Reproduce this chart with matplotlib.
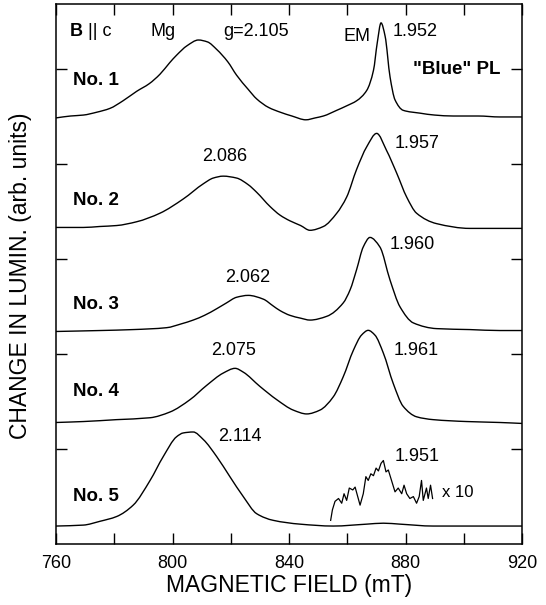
import matplotlib
matplotlib.use("Agg")
import matplotlib.pyplot as plt
from matplotlib.ticker import FixedLocator, FuncFormatter
from matplotlib.path import Path
from matplotlib.patches import PathPatch

plt.rcParams['font.family'] = ['Liberation Sans', 'DejaVu Sans']

# ---- data (field in mT, change in luminescence in arb. units above baseline) ----
field1 = [760, 765, 769.4, 774, 778.5, 783, 787.7, 792, 795.7, 799, 801.4, 805, 808.9, 812,
          815.2, 819, 822, 826, 828.9, 833, 837, 841, 845.8, 849, 851.8, 856.4, 860, 863.2,
          866.7, 869, 870.3, 871.6, 873, 874.7, 876.4, 879.2, 885, 890, 896.4, 905, 912.4, 920]
lum1 = [-0.01, 0.01, 0.02, 0.05, 0.09, 0.17, 0.27, 0.35, 0.45, 0.57, 0.65, 0.75, 0.81, 0.79,
        0.71, 0.58, 0.44, 0.29, 0.19, 0.10, 0.05, 0.01, -0.03, -0.01, 0.01, 0.07, 0.12, 0.17,
        0.28, 0.49, 0.78, 0.99, 0.85, 0.42, 0.18, 0.07, 0.04, 0.02, 0.01, 0.01, 0.00, 0.00]

field2 = [760, 769.4, 775, 780.8, 787.7, 795.7, 803.7, 810.6, 814, 817.4, 822, 826, 828.9,
          833.5, 836.9, 840.3, 844, 847.2, 851.8, 856.4, 859.8, 863.2, 866.7, 870.1, 873.5,
          877, 880.4, 883.8, 890.7, 902.1, 912.4, 920]
lum2 = [0.0, 0.0, 0.01, 0.02, 0.06, 0.15, 0.30, 0.46, 0.52, 0.54, 0.52, 0.45, 0.37,
        0.22, 0.13, 0.07, 0.02, -0.03, 0.01, 0.15, 0.32, 0.61, 0.85, 0.99, 0.81,
        0.57, 0.32, 0.15, 0.04, -0.01, -0.01, -0.01]

field3 = [760, 775.1, 786.5, 798, 803, 807.1, 811, 815.2, 818.5, 822, 826, 831.2, 834.5,
          836.9, 840.3, 844, 847.2, 853, 858.6, 861, 863.2, 865.5, 867.8, 871.2, 874.7,
          878.1, 882.7, 890.7, 902.1, 912.4, 920]
lum3 = [0.0, 0.01, 0.02, 0.04, 0.08, 0.12, 0.17, 0.24, 0.30, 0.36, 0.38, 0.34, 0.27,
        0.22, 0.17, 0.14, 0.12, 0.16, 0.30, 0.44, 0.65, 0.89, 0.99, 0.89, 0.54,
        0.26, 0.09, 0.03, 0.02, 0.01, 0.01]

field4 = [760, 769.4, 780.8, 792.3, 799.1, 806, 811.7, 817.4, 821.5, 824.3, 830, 835.8,
          841.5, 846.1, 850.6, 855.2, 858.6, 862.1, 864.9, 867.2, 869.5, 872.4, 875.8,
          879.2, 883.8, 889.5, 901, 912.4, 920]
lum4 = [0.0, 0.01, 0.03, 0.05, 0.11, 0.24, 0.39, 0.52, 0.57, 0.53, 0.38, 0.24,
        0.13, 0.09, 0.13, 0.27, 0.48, 0.76, 0.92, 0.97, 0.92, 0.73, 0.41,
        0.17, 0.06, 0.03, 0.01, 0.0, -0.01]

field5 = [760, 769.4, 775.1, 780.8, 786.5, 792.3, 796.8, 801.4, 803.7, 807.1, 810.6, 815.2,
          819.7, 824.3, 828.9, 834.6, 843.8, 855.2, 866.7, 872.4, 878.1, 889.5, 912.4, 920]
lum5 = [0.0, 0.01, 0.05, 0.10, 0.22, 0.48, 0.73, 0.94, 0.98, 0.99, 0.91, 0.73,
        0.52, 0.31, 0.13, 0.06, 0.02, 0.0, 0.02, 0.03, 0.02, 0.0, 0.0, 0.0]

# No. 5, EM region magnified x10
field5x10 = [854.3, 854.9, 855.8, 857, 858.1, 858.9, 859.8, 860.7, 861.9, 862.7, 864.4, 865.5,
             866.4, 867.2, 868.1, 869, 869.9, 870.7, 871.6, 872.4, 873.3, 874.1, 875.2, 876.4,
             877.5, 878.7, 879.5, 880.4, 881.5, 882.7, 883.8, 884.7, 885.5, 886.1, 887.2,
             887.8, 888.6, 889.3]
lum5x10 = [0.06, 0.17, 0.26, 0.29, 0.24, 0.34, 0.27, 0.40, 0.38, 0.41, 0.22, 0.34,
           0.52, 0.48, 0.55, 0.53, 0.61, 0.58, 0.66, 0.69, 0.57, 0.59, 0.48, 0.36,
           0.40, 0.34, 0.43, 0.34, 0.29, 0.31, 0.24, 0.31, 0.48, 0.27, 0.40,
           0.29, 0.43, 0.29]

offsets = [4.495, 3.332, 2.237, 1.279, 0.189]
sample_labels = ["No. 1", "No. 2", "No. 3", "No. 4", "No. 5"]
x_ticks = [760, 780, 800, 820, 840, 860, 880, 900, 920]
x_ticklabels_every = [760, 800, 840, 880, 920]
y_ticks = [1, 2, 3, 4, 5]

fields = [field1, field2, field3, field4, field5]
lums = [lum1, lum2, lum3, lum4, lum5]


def smooth_curve(x, y):
    """Shape-preserving cubic (PCHIP-style) Bezier path through the read points."""
    n = len(x)
    h = [x[i + 1] - x[i] for i in range(n - 1)]
    d = [(y[i + 1] - y[i]) / h[i] for i in range(n - 1)]
    m = [0.0] * n
    m[0], m[-1] = d[0], d[-1]
    for i in range(1, n - 1):
        if d[i - 1] * d[i] <= 0:
            m[i] = 0.0
        else:
            w1 = 2 * h[i] + h[i - 1]
            w2 = h[i] + 2 * h[i - 1]
            m[i] = (w1 + w2) / (w1 / d[i - 1] + w2 / d[i])
    verts = [(x[0], y[0])]
    codes = [Path.MOVETO]
    for i in range(n - 1):
        verts += [(x[i] + h[i] / 3, y[i] + m[i] * h[i] / 3),
                  (x[i + 1] - h[i] / 3, y[i + 1] - m[i + 1] * h[i] / 3),
                  (x[i + 1], y[i + 1])]
        codes += [Path.CURVE4] * 3
    return Path(verts, codes)


# ---- figure ----
fig = plt.figure(figsize=(5.46, 6.05), dpi=100)
ax = fig.add_axes([56 / 546, 1 - 544 / 605, 466 / 546, 540 / 605])

for f, l, off in zip(fields, lums, offsets):
    p = smooth_curve(f, [v + off for v in l])
    ax.add_patch(PathPatch(p, facecolor='none', edgecolor='black', lw=1.0,
                           transform=ax.transData))
ax.plot(field5x10, [v + offsets[4] for v in lum5x10], color='black', lw=0.9)

ax.set_xlim(760, 920)
ax.set_ylim(0, 5.684)
ax.xaxis.set_major_locator(FixedLocator(x_ticks))
ax.xaxis.set_major_formatter(FuncFormatter(
    lambda v, p: f"{int(round(v))}" if int(round(v)) in x_ticklabels_every else ""))
ax.yaxis.set_major_locator(FixedLocator(y_ticks))
ax.set_yticklabels([])
ax.tick_params(axis='both', direction='in', length=8, width=1.0,
               top=True, right=True, labelsize=13, pad=8)
for s in ax.spines.values():
    s.set_linewidth(1.1)

ax.set_xlabel("MAGNETIC FIELD (mT)", fontsize=16.5)
ax.xaxis.set_label_coords(0.5, -0.076)
ax.xaxis.label.set_va('center')
fig.text(21 / 546, 1 - 276 / 605, "CHANGE IN LUMIN. (arb. units)", fontsize=16.5,
         rotation=90, ha='center', va='center')

fs = 13
label_y = [4.88, 3.62, 2.52, 1.60, 0.50]
for lab, yy in zip(sample_labels, label_y):
    ax.text(765.8, yy, lab, fontsize=13.5, fontweight='bold', ha='left', va='center')

ax.text(764.8, 5.39, "B", fontsize=fs, fontweight='bold', ha='left', va='center')
ax.text(770.9, 5.39, "|| c", fontsize=fs, ha='left', va='center')
ax.text(796.6, 5.39, "Mg", fontsize=fs, ha='center', va='center')
ax.text(828.7, 5.39, "g=2.105", fontsize=fs, ha='center', va='center')
ax.text(863.2, 5.34, "EM", fontsize=fs, ha='center', va='center')
ax.text(883.4, 5.39, "1.952", fontsize=fs, ha='center', va='center')
ax.text(897.5, 4.99, "\"Blue\" PL", fontsize=13.5, fontweight='bold', ha='center', va='center')

ax.text(817.9, 4.08, "2.086", fontsize=fs, ha='center', va='center')
ax.text(884.0, 4.22, "1.957", fontsize=fs, ha='center', va='center')
ax.text(825.8, 2.81, "2.062", fontsize=fs, ha='center', va='center')
ax.text(882.2, 3.15, "1.960", fontsize=fs, ha='center', va='center')
ax.text(820.8, 2.04, "2.075", fontsize=fs, ha='center', va='center')
ax.text(883.6, 2.04, "1.961", fontsize=fs, ha='center', va='center')
ax.text(823.2, 1.13, "2.114", fontsize=fs, ha='center', va='center')
ax.text(884.0, 0.92, "1.951", fontsize=fs, ha='center', va='center')
ax.text(892.5, 0.54, "x 10", fontsize=12, ha='left', va='center')

fig.savefig("out.png", dpi=100)
